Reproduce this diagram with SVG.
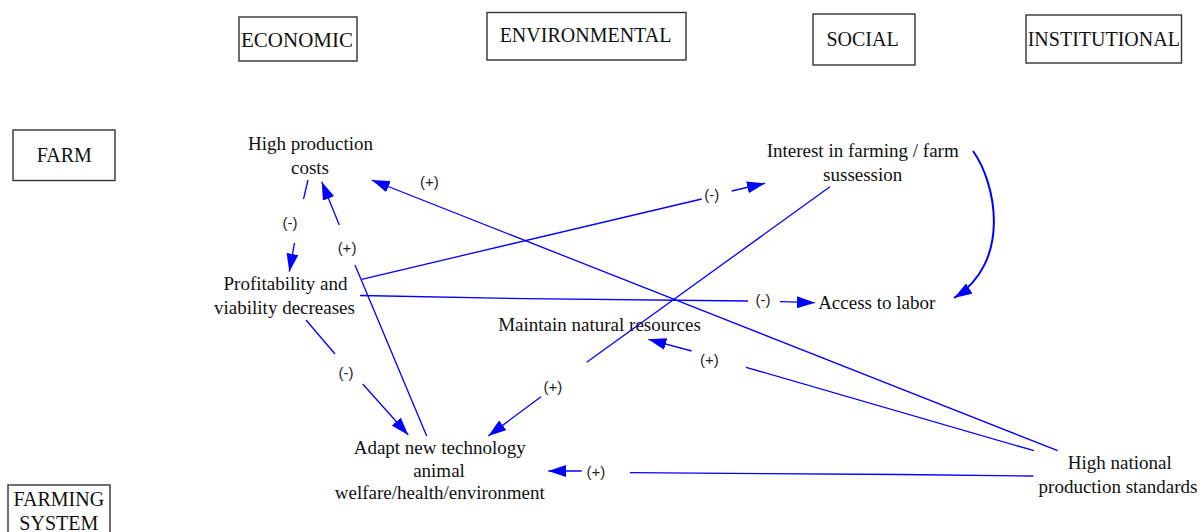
<svg xmlns="http://www.w3.org/2000/svg" width="1204" height="532" viewBox="0 0 1204 532">
<defs>
<marker id="ah" markerUnits="userSpaceOnUse" markerWidth="18" markerHeight="12" refX="18" refY="6" orient="auto" viewBox="0 0 18 12"><path d="M0,0 L18,6 L0,12 z" fill="#0000FF"/></marker>
</defs>
<style>
.box{fill:#fff;stroke:#333;stroke-width:1.4}
.hd{font-family:"Liberation Serif","Times New Roman",serif;font-size:20px;fill:#111;text-anchor:middle}
.nd{font-family:"Liberation Serif","Times New Roman",serif;font-size:19px;fill:#111;text-anchor:middle}
.lb{font-family:"Liberation Sans",Arial,sans-serif;font-size:15px;fill:#222;text-anchor:middle}
.cn{fill:none;stroke:#0000FF;stroke-width:1.3}
.cv{fill:none;stroke:#0000FF;stroke-width:2}
</style>
<rect width="1204" height="532" fill="#fff"/>
<g id="economic"><rect class="box" x="239" y="17" width="118" height="44"/><text class="hd" x="297" y="46.5" style="font-size:21px">ECONOMIC</text></g>
<g id="environmental"><rect class="box" x="487" y="12.5" width="199" height="47.5"/><text class="hd" x="585.5" y="42">ENVIRONMENTAL</text></g>
<g id="social"><rect class="box" x="813" y="14" width="102" height="51"/><text class="hd" x="862.5" y="46">SOCIAL</text></g>
<g id="institutional"><rect class="box" x="1026" y="15" width="155.5" height="48"/><text class="hd" x="1103.8" y="45.7">INSTITUTIONAL</text></g>
<g id="farm"><rect class="box" x="13" y="130" width="102" height="50.5"/><text class="hd" x="64.3" y="161.7">FARM</text></g>
<g id="farming-system"><rect class="box" x="8" y="485" width="102" height="60"/><text class="hd" x="58.8" y="506"><tspan x="58.8">FARMING</tspan><tspan x="58.8" y="529.5">SYSTEM</tspan></text></g>

<g id="high-production-costs"><text class="nd" x="310.5" y="150"><tspan x="310.5">High production</tspan><tspan x="310" y="174">costs</tspan></text></g>
<g id="profitability"><text class="nd" x="285.5" y="290"><tspan x="285.5">Profitability and</tspan><tspan x="284.5" y="314">viability decreases</tspan></text></g>
<g id="interest-in-farming"><text class="nd" x="862.7" y="156.7"><tspan x="862.7">Interest in farming / farm</tspan><tspan x="862.7" y="180.7">sussession</tspan></text></g>
<g id="access-to-labor"><text class="nd" x="876.7" y="309">Access to labor</text></g>
<g id="maintain-natural-resources"><text class="nd" x="599.5" y="331">Maintain natural resources</text></g>
<g id="adapt-new-technology"><text class="nd" x="439.7" y="454"><tspan x="439.7">Adapt new technology</tspan><tspan x="439" y="476.7">animal</tspan><tspan x="439.8" y="499.3">welfare/health/environment</tspan></text></g>
<g id="high-national-standards"><text class="nd" x="1119.7" y="469.3"><tspan x="1119.7">High national</tspan><tspan x="1118" y="493.3">production standards</tspan></text></g>

<g id="connectors">
<line class="cn" x1="308" y1="180" x2="303.5" y2="199"/>
<line class="cn" x1="294.5" y1="243" x2="289.3" y2="271.7" marker-end="url(#ah)"/>
<text class="lb" x="290" y="228">(-)</text>

<line class="cn" x1="426.7" y1="436" x2="355" y2="265"/>
<line class="cn" x1="339.3" y1="225" x2="321.7" y2="181.7" marker-end="url(#ah)"/>
<text class="lb" x="347" y="253">(+)</text>

<line class="cn" x1="1057.7" y1="450.7" x2="371.7" y2="180" marker-end="url(#ah)"/>
<text class="lb" x="429.3" y="186.7">(+)</text>

<line class="cn" x1="361.7" y1="279.3" x2="701.7" y2="199"/>
<line class="cn" x1="731.7" y1="191" x2="765" y2="183.3" marker-end="url(#ah)"/>
<text class="lb" x="711.8" y="200">(-)</text>

<polyline class="cn" points="360,295.5 525,298.7 748,301"/>
<line class="cn" x1="780" y1="301.7" x2="815" y2="302.7" marker-end="url(#ah)"/>
<text class="lb" x="763" y="305">(-)</text>

<line class="cn" x1="830" y1="186.7" x2="586.7" y2="362.3"/>
<line class="cn" x1="541" y1="396.7" x2="488.3" y2="436" marker-end="url(#ah)"/>
<text class="lb" x="552.8" y="391.7">(+)</text>

<line class="cn" x1="306" y1="320" x2="335" y2="354"/>
<line class="cn" x1="362.7" y1="384" x2="408.3" y2="435" marker-end="url(#ah)"/>
<text class="lb" x="346" y="378.3">(-)</text>

<line class="cn" x1="1034" y1="450.7" x2="746" y2="367.3"/>
<line class="cn" x1="691.7" y1="351" x2="648.3" y2="339.3" marker-end="url(#ah)"/>
<text class="lb" x="709.3" y="365">(+)</text>

<polyline class="cn" points="1033.3,476 900,474.5 630,472.7"/>
<line class="cn" x1="581.7" y1="471" x2="548.3" y2="471" marker-end="url(#ah)"/>
<text class="lb" x="595.8" y="477.3">(+)</text>

<path class="cv" d="M973,151 C996,183 1012,262 954,298" marker-end="url(#ah)"/>
</g>
</svg>
